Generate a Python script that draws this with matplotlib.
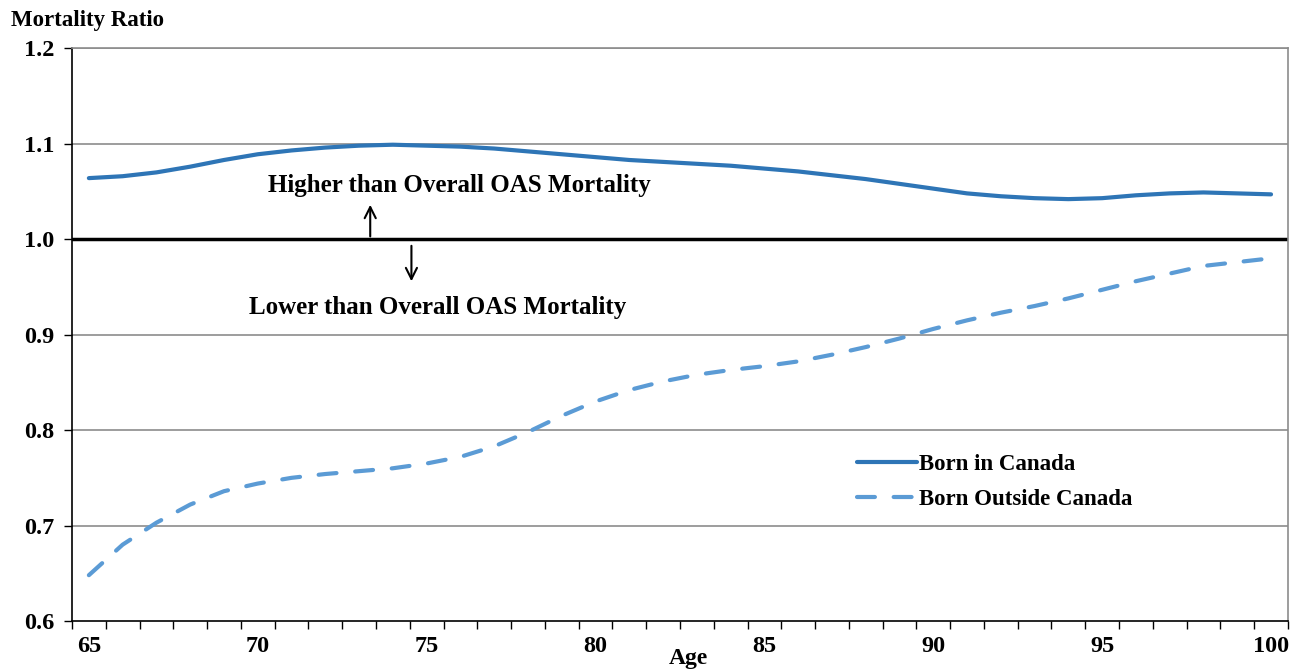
import numpy as np
import matplotlib.pyplot as plt
from matplotlib.ticker import MultipleLocator, FixedLocator, FormatStrFormatter

# ages on the category axis
ages = list(range(65, 101))

# mortality ratio relative to overall OAS mortality
born_in_canada = [1.064, 1.066, 1.070, 1.076, 1.083, 1.089, 1.093, 1.096, 1.098, 1.099,
                  1.098, 1.097, 1.095, 1.092, 1.089, 1.086, 1.083, 1.081, 1.079, 1.077,
                  1.074, 1.071, 1.067, 1.063, 1.058, 1.053, 1.048, 1.045, 1.043, 1.042,
                  1.043, 1.046, 1.048, 1.049, 1.048, 1.047]
born_outside = [0.648, 0.680, 0.703, 0.722, 0.736, 0.744, 0.750, 0.754, 0.757, 0.760,
                0.765, 0.772, 0.783, 0.798, 0.815, 0.830, 0.842, 0.851, 0.858, 0.863,
                0.867, 0.872, 0.879, 0.887, 0.896, 0.906, 0.915, 0.923, 0.930, 0.938,
                0.947, 0.956, 0.964, 0.972, 0.976, 0.980]

age_labels = [65, 70, 75, 80, 85, 90, 95, 100]

plt.rcParams['font.family'] = ['Liberation Serif', 'DejaVu Serif']
plt.rcParams['font.weight'] = 'bold'

fig = plt.figure(figsize=(12.97, 6.71), dpi=100)
ax = fig.add_axes([0.0555, 0.0745, 0.9375, 0.8535])

# gridlines
for y in np.arange(0.7, 1.21, 0.1):
    if abs(y - 1.0) > 1e-6:
        ax.axhline(y, color='#8c8c8c', lw=1.2, zorder=1)
ax.axhline(1.0, color='black', lw=2.5, zorder=2)

ax.plot(ages, born_in_canada, color='#2E75B6', lw=3.0, solid_capstyle='round',
        label='Born in Canada', zorder=3)
ax.plot(ages, born_outside, color='#5B9BD5', lw=3.0, dashes=(4.3, 4.5),
        dash_capstyle='round', label='Born Outside Canada', zorder=3)

ax.set_xlim(64.5, 100.5)
ax.set_ylim(0.6, 1.2)

ax.yaxis.set_major_locator(MultipleLocator(0.1))
ax.yaxis.set_major_formatter(FormatStrFormatter('%.1f'))
ax.xaxis.set_major_locator(FixedLocator(age_labels))
ax.xaxis.set_minor_locator(FixedLocator(np.arange(64.5, 101, 1)))
ax.tick_params(axis='x', which='major', length=0, pad=11, labelsize=17.5)
ax.tick_params(axis='x', which='minor', length=6, width=1, direction='out')
ax.tick_params(axis='y', length=6, width=1, direction='out', labelsize=17.5, pad=7)
for lab in ax.get_xticklabels() + ax.get_yticklabels():
    lab.set_fontweight('bold')

for s in ['top', 'right']:
    ax.spines[s].set_color('#8c8c8c')
    ax.spines[s].set_linewidth(1.2)
ax.spines['left'].set_linewidth(1.2)
ax.spines['bottom'].set_linewidth(1.2)

ax.text(-0.0505, 1.049, 'Mortality Ratio', transform=ax.transAxes, fontsize=16.5,
        fontweight='bold', ha='left', va='center')
ax.text(0.507, -0.065, 'Age', transform=ax.transAxes, fontsize=17,
        fontweight='bold', ha='center', va='center')

# annotations around the 1.0 reference line
ax.annotate('', xy=(73.33, 1.039), xytext=(73.33, 1.0),
            arrowprops=dict(arrowstyle='->', color='black', lw=1.5, mutation_scale=20))
ax.annotate('', xy=(74.55, 0.953), xytext=(74.55, 0.996),
            arrowprops=dict(arrowstyle='->', color='black', lw=1.5, mutation_scale=20))
ax.text(75.97, 1.056, 'Higher than Overall OAS Mortality', fontsize=18,
        fontweight='bold', ha='center', va='center')
ax.text(75.32, 0.928, 'Lower than Overall OAS Mortality', fontsize=18,
        fontweight='bold', ha='center', va='center')

leg = ax.legend(loc='upper left', bbox_to_anchor=(0.629, 0.327), frameon=True,
                fontsize=16.5, handlelength=2.6, handletextpad=0.1,
                labelspacing=0.58, borderpad=0.4)
leg.get_frame().set_edgecolor('white')
leg.get_frame().set_facecolor('white')
leg.get_frame().set_alpha(1)
for t in leg.get_texts():
    t.set_fontweight('bold')

fig.savefig('out.png', dpi=100)
